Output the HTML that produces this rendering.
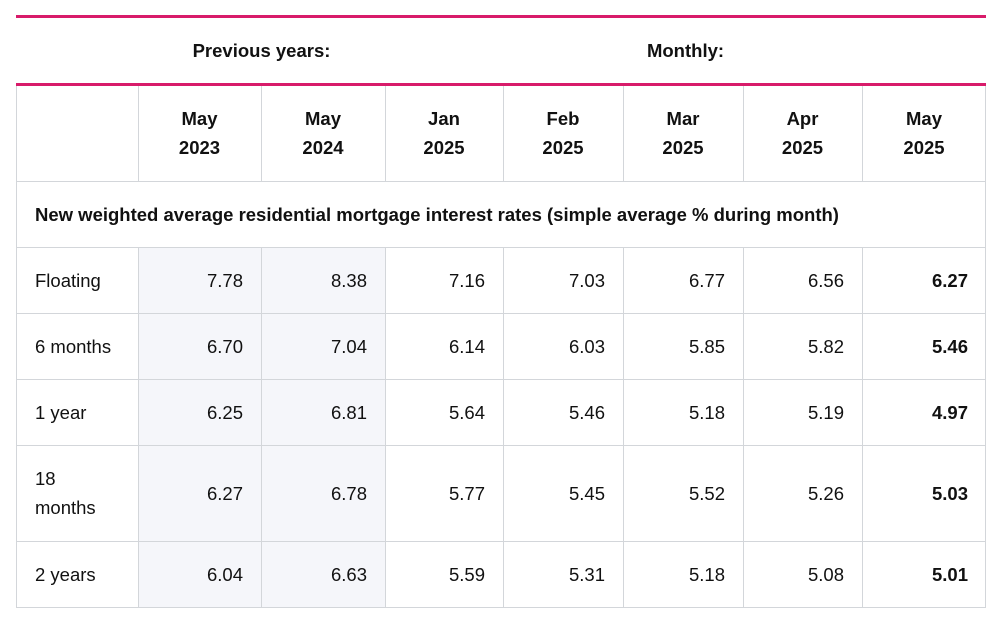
<!DOCTYPE html>
<html><head><style>
body{margin:0;background:#fff;font-family:"Liberation Sans",Arial,sans-serif;color:#111;}
.pk{position:absolute;left:16px;width:970px;height:3px;background:#d81b6a;}
.vl{position:absolute;width:1px;background:#d3d6da;}
.hl{position:absolute;left:16px;width:970px;height:1px;background:#d3d6da;}
.sh{position:absolute;background:#f5f6fa;}
.t{position:absolute;font-size:18.5px;line-height:29px;white-space:nowrap;}
.b{font-weight:bold;}
.c{text-align:center;}
.r{text-align:right;}
</style></head><body>
<div class="pk" style="top:15px"></div>
<div class="pk" style="top:83px"></div>
<div class="t b c" style="left:138px;width:247px;top:36px">Previous years:</div>
<div class="t b c" style="left:385px;width:601px;top:36px">Monthly:</div>
<div class="sh" style="left:139px;top:248px;width:246px;height:359px"></div>
<div class="hl" style="top:181px"></div>
<div class="hl" style="top:247px"></div>
<div class="hl" style="top:313px"></div>
<div class="hl" style="top:379px"></div>
<div class="hl" style="top:445px"></div>
<div class="hl" style="top:541px"></div>
<div class="hl" style="top:607px"></div>
<div class="vl" style="left:16px;top:86px;height:522px"></div>
<div class="vl" style="left:985px;top:86px;height:522px"></div>
<div class="vl" style="left:138px;top:86px;height:95px"></div><div class="vl" style="left:138px;top:247px;height:360px"></div>
<div class="vl" style="left:261px;top:86px;height:95px"></div><div class="vl" style="left:261px;top:247px;height:360px"></div>
<div class="vl" style="left:385px;top:86px;height:95px"></div><div class="vl" style="left:385px;top:247px;height:360px"></div>
<div class="vl" style="left:503px;top:86px;height:95px"></div><div class="vl" style="left:503px;top:247px;height:360px"></div>
<div class="vl" style="left:623px;top:86px;height:95px"></div><div class="vl" style="left:623px;top:247px;height:360px"></div>
<div class="vl" style="left:743px;top:86px;height:95px"></div><div class="vl" style="left:743px;top:247px;height:360px"></div>
<div class="vl" style="left:862px;top:86px;height:95px"></div><div class="vl" style="left:862px;top:247px;height:360px"></div>
<div class="t b c" style="left:138px;width:123px;top:104px">May<br>2023</div>
<div class="t b c" style="left:261px;width:124px;top:104px">May<br>2024</div>
<div class="t b c" style="left:385px;width:118px;top:104px">Jan<br>2025</div>
<div class="t b c" style="left:503px;width:120px;top:104px">Feb<br>2025</div>
<div class="t b c" style="left:623px;width:120px;top:104px">Mar<br>2025</div>
<div class="t b c" style="left:743px;width:119px;top:104px">Apr<br>2025</div>
<div class="t b c" style="left:862px;width:124px;top:104px">May<br>2025</div>
<div class="t b" style="left:35px;top:200px">New weighted average residential mortgage interest rates (simple average % during month)</div>
<div id="rows"></div>
<script>
var R=[["Floating",266,["7.78","8.38","7.16","7.03","6.77","6.56","6.27"]],
["6 months",332,["6.70","7.04","6.14","6.03","5.85","5.82","5.46"]],
["1 year",398,["6.25","6.81","5.64","5.46","5.18","5.19","4.97"]],
["18<br>months",479,["6.27","6.78","5.77","5.45","5.52","5.26","5.03"]],
["2 years",560,["6.04","6.63","5.59","5.31","5.18","5.08","5.01"]]];
var E=[261,385,503,623,743,862,986],h="";
R.forEach(function(r){var ty=r[1];
h+='<div class="t" style="left:35px;top:'+(r[0].indexOf("<br>")>0?ty-15:ty)+'px">'+r[0]+'</div>';
r[2].forEach(function(v,i){h+='<div class="t r'+(i==6?' b':'')+'" style="left:'+(E[i]-120)+'px;width:102px;top:'+ty+'px">'+v+'</div>';});});
document.getElementById("rows").innerHTML=h;
</script>
</body></html>
